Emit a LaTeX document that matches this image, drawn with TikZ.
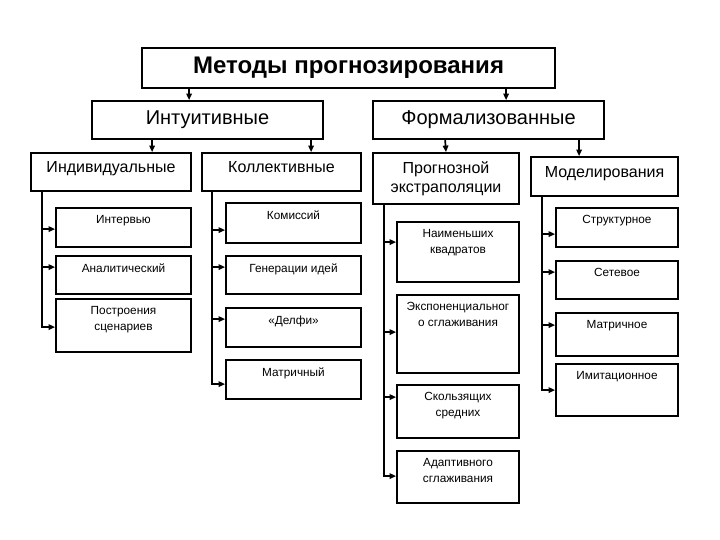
\documentclass[tikz,border=0pt]{standalone}
\usepackage{fontspec}
\setmainfont{Liberation Sans}
\usetikzlibrary{arrows.meta,calc}

\tikzset{
  head/.style={draw, rectangle, inner sep=2pt, align=center},
  leaf/.style={draw, rectangle, inner sep=0pt},
  leaftext/.style={anchor=north, inner sep=0pt, align=center, font=\fontsize{11.8pt}{15.5pt}\selectfont},
  link/.style={->, line width=1.7pt},
}

\begin{document}
\begin{tikzpicture}[x=1pt, y=-1pt, line width=1.8pt, >={Triangle[length=6.5pt,width=5.5pt]}]%
\useasboundingbox (0,0) rectangle (720,540);%
% levels 0 and 1
\node[head, minimum width=413pt, minimum height=40pt, font=\fontsize{24pt}{24pt}\selectfont\bfseries] (title) at (348.5, 68) {Методы прогнозирования};%
\node[head, minimum width=231pt, minimum height=38pt, font=\fontsize{20pt}{20pt}\selectfont] (intu) at (207.5, 120) {Интуитивные};%
\node[head, minimum width=231pt, minimum height=38pt, font=\fontsize{20pt}{20pt}\selectfont] (form) at (488.5, 120) {Формализованные};%
% level 2
\node[head, minimum width=160pt, minimum height=38pt, text depth=10pt, font=\fontsize{16pt}{16pt}\selectfont] (indiv) at (111, 172) {Индивидуальные};%
\node[head, minimum width=159pt, minimum height=38pt, text depth=10pt, font=\fontsize{16pt}{16pt}\selectfont] (koll) at (281.5, 172) {Коллективные};%
\node[head, minimum width=146pt, minimum height=51pt, font=\fontsize{16pt}{19pt}\selectfont] (prog) at (446, 178.5) {Прогнозной\\экстраполяции};%
\node[head, minimum width=147pt, minimum height=39pt, text depth=10pt, font=\fontsize{16pt}{16pt}\selectfont] (model) at (604.5, 176.5) {Моделирования};%
% level 3, individual
\node[leaf, minimum width=135pt, minimum height=39pt] (intv) at (123.5, 227.5) {};%
\node[leaftext] (intv-t) at ($(intv.north)+(0,7.5)$) {Интервью};%
\node[leaf, minimum width=135pt, minimum height=38pt] (anal) at (123.5, 275) {};%
\node[leaftext] (anal-t) at ($(anal.north)+(0,7.5)$) {Аналитический};%
\node[leaf, minimum width=135pt, minimum height=53pt] (scen) at (123.5, 325.5) {};%
\node[leaftext] (scen-t) at ($(scen.north)+(0,7.5)$) {Построения\\сценариев};%
% level 3, collective
\node[leaf, minimum width=135pt, minimum height=40pt] (kom) at (293.5, 223) {};%
\node[leaftext] (kom-t) at ($(kom.north)+(0,7.5)$) {Комиссий};%
\node[leaf, minimum width=135pt, minimum height=38pt] (gen) at (293.5, 275) {};%
\node[leaftext] (gen-t) at ($(gen.north)+(0,7.5)$) {Генерации идей};%
\node[leaf, minimum width=135pt, minimum height=39pt] (delf) at (293.5, 327.5) {};%
\node[leaftext] (delf-t) at ($(delf.north)+(0,7.5)$) {«Делфи»};%
\node[leaf, minimum width=135pt, minimum height=39pt] (matr) at (293.5, 379.5) {};%
\node[leaftext] (matr-t) at ($(matr.north)+(0,7.5)$) {Матричный};%
% level 3, extrapolation
\node[leaf, minimum width=122pt, minimum height=60pt] (nk) at (458, 252) {};%
\node[leaftext] (nk-t) at ($(nk.north)+(0,7.5)$) {Наименьших\\квадратов};%
\node[leaf, minimum width=122pt, minimum height=78pt] (expo) at (458, 334) {};%
\node[leaftext] (expo-t) at ($(expo.north)+(0,7.5)$) {Экспоненциальног\\о сглаживания};%
\node[leaf, minimum width=122pt, minimum height=53pt] (skol) at (458, 411.5) {};%
\node[leaftext] (skol-t) at ($(skol.north)+(0,7.5)$) {Скользящих\\средних};%
\node[leaf, minimum width=122pt, minimum height=52pt] (adap) at (458, 477) {};%
\node[leaftext] (adap-t) at ($(adap.north)+(0,7.5)$) {Адаптивного\\сглаживания};%
% level 3, modelling
\node[leaf, minimum width=122pt, minimum height=39pt] (struk) at (617, 227.5) {};%
\node[leaftext] (struk-t) at ($(struk.north)+(0,7.5)$) {Структурное};%
\node[leaf, minimum width=122pt, minimum height=38pt] (set) at (617, 280) {};%
\node[leaftext] (set-t) at ($(set.north)+(0,7.5)$) {Сетевое};%
\node[leaf, minimum width=122pt, minimum height=43pt] (mtrx) at (617, 334.5) {};%
\node[leaftext] (mtrx-t) at ($(mtrx.north)+(0,7.5)$) {Матричное};%
\node[leaf, minimum width=122pt, minimum height=52pt] (imit) at (617, 390) {};%
\node[leaftext] (imit-t) at ($(imit.north)+(0,7.5)$) {Имитационное};%
% arrows between levels
\draw[link] ($(title.south west)+(48,0)$) -- ($(intu.north west)+(98,0)$);%
\draw[link] ($(title.south west)+(365,0)$) -- ($(form.north west)+(134,0)$);%
\draw[link] ($(intu.south west)+(61,0)$) -- ($(indiv.north west)+(122,0)$);%
\draw[link] ($(intu.south west)+(220,0)$) -- ($(koll.north west)+(110,0)$);%
\draw[link] ($(form.south west)+(73,0)$) -- (prog.north);%
\draw[link] ($(form.south west)+(207,0)$) -- ($(model.north west)+(49,0)$);%
% side rails to the leaves
\foreach \c/\d in {intv/22, anal/12, scen/29}
  \draw[link] ($(indiv.south west)+(12,0)$) |- ($(\c.north west)+(0,\d)$);%
\foreach \c/\d in {kom/28, gen/12, delf/12, matr/25}
  \draw[link] ($(koll.south west)+(11,0)$) |- ($(\c.north west)+(0,\d)$);%
\foreach \c/\d in {nk/21, expo/38, skol/13, adap/26}
  \draw[link] ($(prog.south west)+(12,0)$) |- ($(\c.north west)+(0,\d)$);%
\foreach \c/\d in {struk/27, set/12, mtrx/13, imit/27}
  \draw[link] ($(model.south west)+(12,0)$) |- ($(\c.north west)+(0,\d)$);%
\end{tikzpicture}
\end{document}
